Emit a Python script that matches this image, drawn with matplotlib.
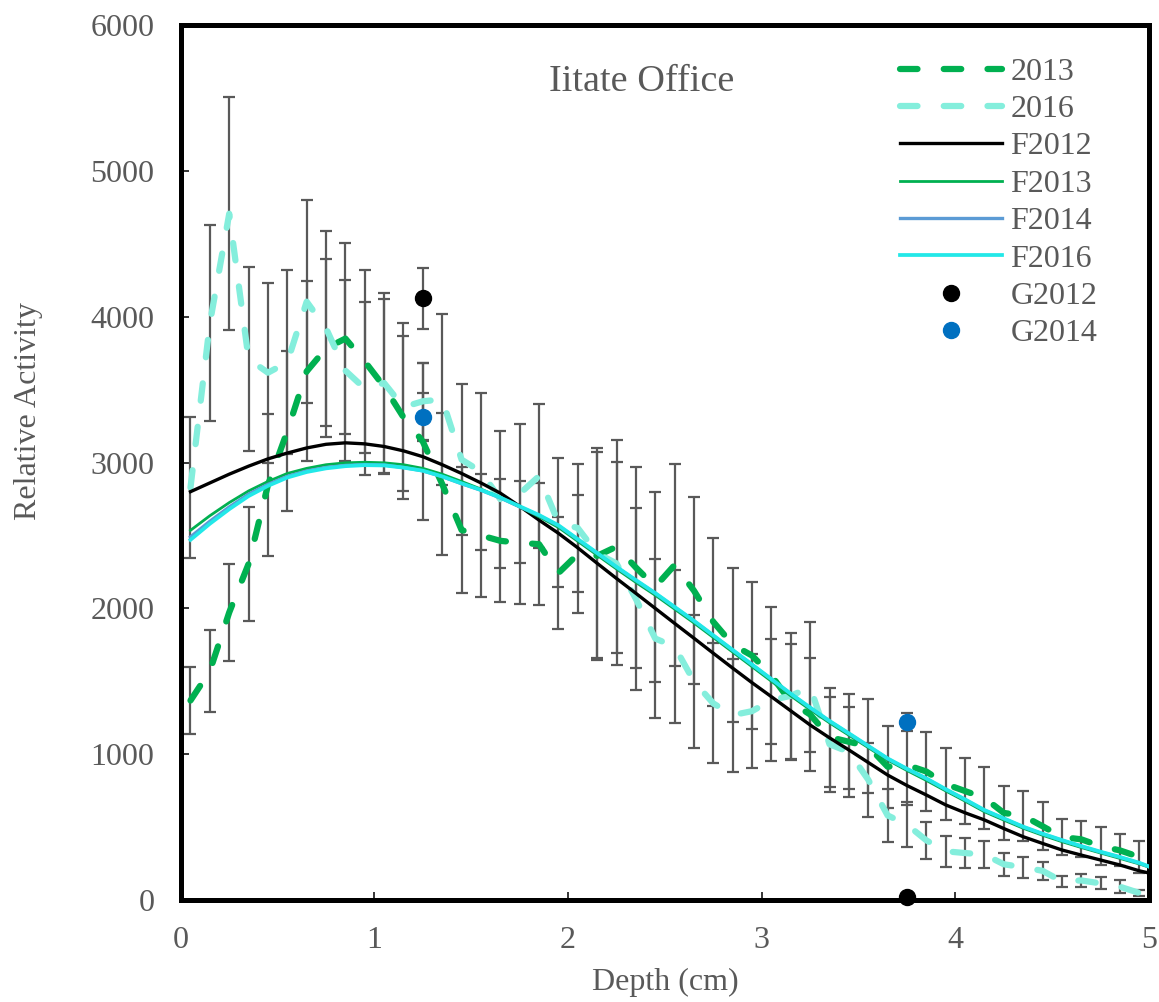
import matplotlib
matplotlib.use("Agg")
import matplotlib.pyplot as plt
import numpy as np

plt.rcParams['font.family'] = ['Liberation Serif', 'DejaVu Serif']

# depth midpoints of each 1 mm slice
depth = [0.05, 0.15, 0.25, 0.35, 0.45, 0.55, 0.65, 0.75, 0.85, 0.95,
         1.05, 1.15, 1.25, 1.35, 1.45, 1.55, 1.65, 1.75, 1.85, 1.95,
         2.05, 2.15, 2.25, 2.35, 2.45, 2.55, 2.65, 2.75, 2.85, 2.95,
         3.05, 3.15, 3.25, 3.35, 3.45, 3.55, 3.65, 3.75, 3.85, 3.95,
         4.05, 4.15, 4.25, 4.35, 4.45, 4.55, 4.65, 4.75, 4.85, 4.95]

act_2013 = [1368, 1570, 1972, 2305, 2846, 3215, 3625, 3783, 3850, 3693,
            3520, 3310, 3143, 2852, 2537, 2500, 2463, 2450, 2440, 2242,
            2371, 2360, 2423, 2280, 2148, 2297, 2121, 1907, 1751, 1676,
            1540, 1357, 1272, 1117, 1085, 1053, 914, 926, 881, 795,
            747, 700, 597, 578, 506, 432, 416, 369, 340, 295]
err_2013 = [231, 279, 334, 390, 485, 550, 617, 610, 656, 629,
            600, 560, 537, 487, 434, 420, 422, 420, 417, 386,
            405, 714, 731, 691, 651, 691, 640, 577, 528, 506,
            467, 396, 385, 340, 326, 322, 281, 275, 269, 245,
            226, 213, 185, 172, 164, 123, 123, 129, 110, 112]

act_2016 = [2828, 3954, 4706, 3710, 3616, 3687, 4103, 3921, 3630, 3507,
            3545, 3380, 3420, 3433, 3020, 2937, 2748, 2786, 2907, 2588,
            2551, 2377, 2308, 2065, 1793, 1737, 1499, 1348, 1268, 1295,
            1371, 1400, 1460, 1068, 1015, 825, 580, 517, 409, 334,
            322, 312, 245, 225, 200, 128, 134, 114, 91, 48]
err_2016 = [481, 672, 798, 630, 617, 630, 697, 670, 619, 594,
            618, 575, 265, 587, 518, 540, 470, 478, 496, 440,
            437, 720, 697, 625, 543, 526, 455, 411, 388, 392,
            417, 430, 443, 325, 311, 254, 180, 157, 128, 105,
            100, 95, 80, 72, 63, 37, 42, 41, 46, 21]

# fitted profiles
fit_depth = depth + [5.0]
fit_2012 = [2800, 2860, 2920, 2975, 3025, 3065, 3100, 3125, 3135, 3128,
            3110, 3080, 3040, 2985, 2925, 2860, 2790, 2700, 2605, 2515,
            2415, 2309, 2205, 2103, 2000, 1897, 1795, 1692, 1590, 1490,
            1394, 1297, 1200, 1112, 1029, 943, 857, 785, 720, 652,
            598, 549, 490, 434, 388, 343, 308, 274, 240, 200, 185]
fit_2013 = [2535, 2635, 2725, 2805, 2870, 2925, 2960, 2985, 2998, 3002,
            2998, 2985, 2960, 2920, 2870, 2818, 2760, 2695, 2628, 2555,
            2460, 2365, 2270, 2178, 2090, 1995, 1900, 1800, 1700, 1600,
            1500, 1400, 1305, 1215, 1130, 1045, 960, 888, 820, 748,
            678, 605, 548, 492, 444, 400, 360, 322, 285, 247, 225]
fit_2014 = [2490, 2597, 2695, 2783, 2850, 2905, 2942, 2966, 2980, 2986,
            2983, 2966, 2943, 2903, 2855, 2810, 2757, 2697, 2637, 2567,
            2472, 2377, 2282, 2191, 2103, 2008, 1913, 1813, 1713, 1613,
            1513, 1413, 1317, 1226, 1141, 1055, 969, 898, 832, 758,
            688, 615, 558, 501, 453, 409, 368, 329, 293, 253, 228]
fit_2016 = [2470, 2580, 2680, 2770, 2840, 2897, 2935, 2960, 2975, 2982,
            2980, 2965, 2944, 2905, 2857, 2812, 2760, 2700, 2640, 2570,
            2475, 2380, 2285, 2194, 2105, 2010, 1915, 1815, 1715, 1615,
            1515, 1415, 1320, 1228, 1143, 1057, 971, 900, 834, 760,
            690, 617, 560, 503, 455, 411, 370, 331, 295, 255, 230]

# single-point measurements
g_depth = [1.25, 3.75]
g_2012 = [4125, 20]
g_2014 = [3310, 1223]
g_err_2012 = [206, 1]
g_err_2014 = [165, 61]

grey = '#595959'
fig = plt.figure(figsize=(11.59, 10.02), dpi=100)
ax = fig.add_axes([0.156, 0.1018, 0.8354, 0.8732])

eb_kw = dict(fmt='none', ecolor=grey, elinewidth=1.6, capsize=4.3, capthick=1.6, zorder=2)
ax.errorbar(depth, act_2013, yerr=err_2013, **eb_kw)
ax.errorbar(depth, act_2016, yerr=err_2016, **eb_kw)
ax.errorbar(g_depth, g_2012, yerr=g_err_2012, **eb_kw)
ax.errorbar(g_depth, g_2014, yerr=g_err_2014, **eb_kw)

dash_kw = dict(lw=4.5, dashes=(2.8, 4.2), dash_capstyle='round', zorder=3)
ax.plot(depth, act_2013, color='#00B050', label='2013', **dash_kw)
ax.plot(depth, act_2016, color='#84EEDC', label='2016', **dash_kw)

ax.plot(fit_depth, fit_2012, color='black', lw=2.4, label='F2012', zorder=4)
ax.plot(fit_depth, fit_2013, color='#00B050', lw=2.0, label='F2013', zorder=4)
ax.plot(fit_depth, fit_2014, color='#5B9BD5', lw=2.4, label='F2014', zorder=4)
ax.plot(fit_depth, fit_2016, color='#22E8E8', lw=2.7, label='F2016', zorder=4)

ax.plot(g_depth, g_2012, 'o', color='black', ms=11.5, label='G2012', zorder=6, clip_on=False)
ax.plot(g_depth, g_2014, 'o', color='#0070C0', ms=11.5, label='G2014', zorder=6, clip_on=False)

ax.set_xlim(0, 5)
ax.set_ylim(0, 6000)
ax.set_xticks(range(0, 6))
ax.set_yticks(range(0, 7000, 1000))
ax.tick_params(direction='in', length=6, width=1.1, colors='black',
               labelcolor=grey, labelsize=23, pad=19)
for s in ax.spines.values():
    s.set_linewidth(3.6)
    s.set_color('black')

ax.set_xlabel('Depth (cm)', fontsize=23, color=grey, labelpad=9)
ax.set_ylabel('Relative Activity', fontsize=23, color=grey)
ax.yaxis.set_label_coords(-0.142, 0.559)
ax.text(0.38, 0.935, 'Iitate Office', transform=ax.transAxes, fontsize=27.5,
        color=grey, va='center')

leg = ax.legend(loc='upper left', bbox_to_anchor=(0.743, 0.963), frameon=False,
                fontsize=23, labelcolor=grey, handlelength=3.2, handletextpad=0.25,
                labelspacing=0.25, borderaxespad=0, borderpad=0)

fig.savefig('out.png', dpi=100)
